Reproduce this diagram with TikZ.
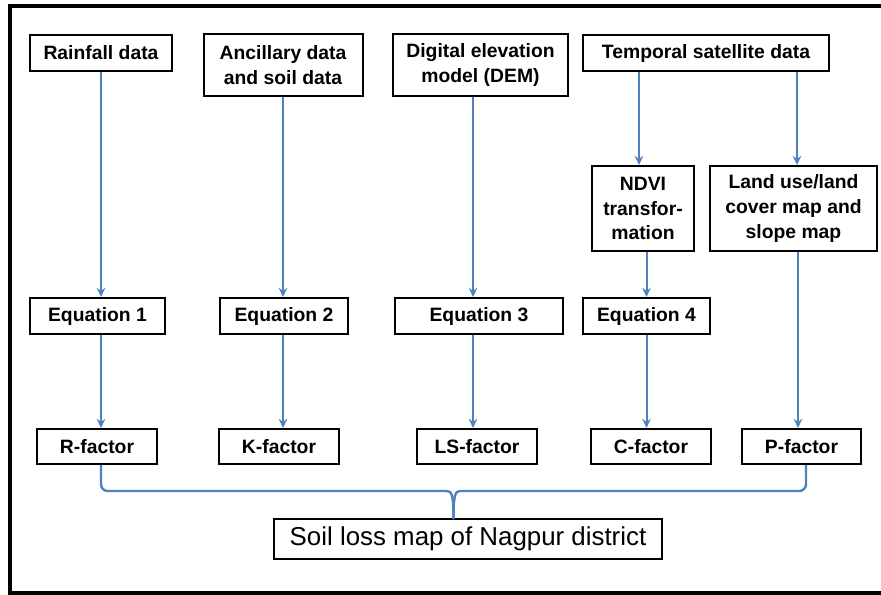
\documentclass[tikz,border=0pt]{standalone}
\usepackage{fontspec}
\setmainfont{Liberation Sans}
\usetikzlibrary{arrows.meta,calc}
\definecolor{flow}{RGB}{79,129,189}
\begin{document}
\begin{tikzpicture}[x=0.75pt,y=-0.75pt,
  box/.style={draw=black,line width=1.5pt,fill=white,inner sep=0pt,align=center,
    font=\fontsize{14.5}{18.4}\selectfont\bfseries},
  wh/.style 2 args={minimum width=#1*0.75pt,minimum height=#2*0.75pt},
  arr/.style={draw=flow,line width=1.5pt,-{Stealth[length=7pt,width=6.5pt,inset=2.5pt]}},
  link/.style={draw=flow,line width=1.8pt}]
\useasboundingbox (0,0) rectangle (881,594);
\begin{scope}
\clip (0,0) rectangle (881,594);
\draw[line width=3pt] (10,6) rectangle (900,592.5);
\end{scope}

% top row
\node[box,wh={142}{36}] (rain) at (101,53) {Rainfall data};
\node[box,wh={159}{62}] (anc) at (283,65) {Ancillary data\\and soil data};
\node[box,wh={175}{62}] (dem) at (480.5,65) {Digital elevation\\model (DEM)};
\node[box,wh={246}{36}] (sat) at (706,53) {Temporal satellite data};
% second row
\node[box,wh={102}{85}] (ndvi) at (643,208.5) {NDVI\\transfor-\\mation};
\node[box,wh={167}{85}] (lulc) at (793.5,208.5) {Land use/land\\cover map and\\slope map};
% equations
\node[box,wh={135}{36}] (eq1) at (97.5,316) {Equation 1};
\node[box,wh={128}{36}] (eq2) at (284,316) {Equation 2};
\node[box,wh={168}{36}] (eq3) at (479,316) {Equation 3};
\node[box,wh={127}{36}] (eq4) at (646.5,316) {Equation 4};
% factors
\node[box,wh={120}{35}] (rf) at (97,446.5) {R-factor};
\node[box,wh={120}{35}] (kf) at (279,446.5) {K-factor};
\node[box,wh={120}{35}] (lsf) at (477,446.5) {LS-factor};
\node[box,wh={120}{35}] (cf) at (651,446.5) {C-factor};
\node[box,wh={119}{35}] (pf) at (801.5,446.5) {P-factor};
% result
\node[box,wh={388}{40},font=\fontsize{19.4}{22}\selectfont] (soil) at (468,539) {Soil loss map of Nagpur district};

% arrows
\draw[arr] (rain.south) -- (rain.south |- eq1.north);
\draw[arr] (rain.south |- eq1.south) -- (rain.south |- rf.north);
\draw[arr] (anc.south) -- (anc.south |- eq2.north);
\draw[arr] (anc.south |- eq2.south) -- (anc.south |- kf.north);
\coordinate (c3) at ($(dem.south)+(-7.5,0)$);
\draw[arr] (c3) -- (c3 |- eq3.north);
\draw[arr] (c3 |- eq3.south) -- (c3 |- lsf.north);
\draw[arr] ($(sat.south -| ndvi.north)+(-4,0)$) -- ($(ndvi.north)+(-4,0)$);
\draw[arr] (ndvi.south -| eq4.north) -- (eq4.north);
\draw[arr] (eq4.south) -- (eq4.south |- cf.north);
\draw[arr] ($(sat.south -| lulc.north)+(3.5,0)$) -- ($(lulc.north)+(3.5,0)$);
\draw[arr] ($(lulc.south)+(4.5,0)$) -- ($(lulc.south |- pf.north)+(4.5,0)$);

% brace
\coordinate (tip) at (453.5,519);
\coordinate (bl) at (101,491);
\coordinate (br) at (806,491);
\draw[link,rounded corners=5pt] (rain.south |- rf.south) -- (bl) -- (447,491);
\draw[link] (447,491) .. controls (452,491) and (tip |- 0,496) .. (tip);
\draw[link,rounded corners=5pt] (br |- pf.south) -- (br) -- (460,491);
\draw[link] (460,491) .. controls (455,491) and (tip |- 0,496) .. (tip);
\end{tikzpicture}
\end{document}
